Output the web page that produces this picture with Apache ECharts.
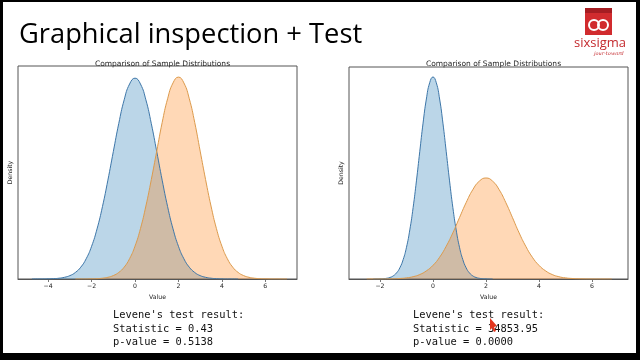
<!DOCTYPE html>
<html>
<head>
<meta charset="utf-8">
<script src="https://cdn.jsdelivr.net/npm/echarts@6/dist/echarts.min.js"></script>
<style>
html,body{margin:0;padding:0;background:#fff;}
#c{width:640px;height:360px;}
</style>
</head>
<body>
<div id="c"></div>
<script>
// ---------- data ----------
const leftTicks = [-4, -2, 0, 2, 4, 6];
const rightTicks = [-2, 0, 2, 4, 6];

const leftBlueX = [-4.75,-4.5,-4.25,-4,-3.75,-3.5,-3.25,-3,-2.75,-2.5,-2.25,-2,-1.75,-1.5,-1.25,-1,-0.75,-0.5,-0.25,0,
  0.25,0.5,0.75,1,1.25,1.5,1.75,2,2.25,2.5,2.75,3,3.25,3.5,3.75,4,4.25,4.5,4.75];
const leftBlueY = [0.0000,0.0001,0.0001,0.0003,0.0006,0.0015,0.0032,0.0064,0.0123,0.0223,0.0383,0.0619,0.0948,0.137,0.187,0.241,0.294,0.339,0.369,0.380,
  0.369,0.339,0.294,0.241,0.187,0.137,0.0948,0.0619,0.0383,0.0223,0.0123,0.0064,0.0032,0.0015,0.0006,0.0003,0.0001,0.0001,0.0000];

const leftOrangeX = [-2.75,-2.5,-2.25,-2,-1.75,-1.5,-1.25,-1,-0.75,-0.5,-0.25,0,0.25,0.5,0.75,1,1.25,1.5,1.75,2,
  2.25,2.5,2.75,3,3.25,3.5,3.75,4,4.25,4.5,4.75,5,5.25,5.5,5.75,6,6.25,6.5,6.75,7];
const leftOrangeY = [0.0000,0.0001,0.0001,0.0003,0.0006,0.0015,0.0032,0.0065,0.0124,0.0224,0.0385,0.0622,0.0953,0.138,0.188,0.242,0.296,0.341,0.371,0.382,
  0.371,0.341,0.296,0.242,0.188,0.138,0.0953,0.0622,0.0385,0.0224,0.0124,0.0065,0.0032,0.0015,0.0006,0.0003,0.0001,0.0001,0.0000,0.0000];

const rightBlueX = [-2.25,-2.125,-2,-1.875,-1.75,-1.625,-1.5,-1.375,-1.25,-1.125,-1,-0.875,-0.75,-0.625,-0.5,-0.375,-0.25,-0.125,0,
  0.125,0.25,0.375,0.5,0.625,0.75,0.875,1,1.125,1.25,1.375,1.5,1.625,1.75,1.875,2,2.125,2.25];
const rightBlueY = [0.0001,0.0002,0.0005,0.0012,0.0027,0.0058,0.0120,0.0233,0.0428,0.0742,0.121,0.187,0.272,0.374,0.485,0.594,0.686,0.748,0.770,
  0.748,0.686,0.594,0.485,0.374,0.272,0.187,0.121,0.0742,0.0428,0.0233,0.0120,0.0058,0.0027,0.0012,0.0005,0.0002,0.0001];

const rightOrangeX = [-2.5,-2.25,-2,-1.75,-1.5,-1.25,-1,-0.75,-0.5,-0.25,0,0.25,0.5,0.75,1,1.25,1.5,1.75,2,
  2.25,2.5,2.75,3,3.25,3.5,3.75,4,4.25,4.5,4.75,5,5.25,5.5,5.75,6,6.25,6.5,6.75];
const rightOrangeY = [0.0000,0.0000,0.0001,0.0003,0.0008,0.0020,0.0043,0.0088,0.017,0.031,0.052,0.083,0.125,0.176,0.234,0.291,0.340,0.373,0.385,
  0.373,0.340,0.291,0.234,0.176,0.125,0.083,0.052,0.031,0.017,0.0088,0.0043,0.0020,0.0008,0.0003,0.0001,0.0000,0.0000,0.0000];

const heading = 'Graphical inspection + Test';
const chartTitle = 'Comparison of Sample Distributions';
const leftResult = ["Levene's test result:", 'Statistic = 0.43', 'p-value = 0.5138'];
const rightResult = ["Levene's test result:", 'Statistic = 34853.95', 'p-value = 0.0000'];

// ---------- chart ----------
const chart = echarts.init(document.getElementById('c'), null, {renderer: 'canvas'});
const BLUE = '#1f77b4', ORANGE = '#ff7f0e';
const BLUE_LINE = '#3d76a8', ORANGE_LINE = '#dc9a4c';
const txt = '#262626';
const mpl = 'DejaVu Sans';

function pairs(xs, ys){ return xs.map((x,i)=>[x, ys[i]]); }
function xAxis(idx, min, max, ticks){
  return {
    type:'value', gridIndex: idx, min, max,
    name:'Value', nameLocation:'middle', nameGap:12,
    nameTextStyle:{fontFamily:mpl, fontSize:6.2, color:txt},
    axisLine:{show:true, lineStyle:{color:'#555', width:1}},
    axisTick:{show:true, length:3, lineStyle:{color:'#555', width:0.8}, customValues: ticks},
    axisLabel:{show:true, margin:4, fontFamily:mpl, fontSize:6.2, color:txt, customValues: ticks,
      formatter: v => String(v).replace('-', '\u2212')},
    splitLine:{show:false}
  };
}
function yAxis(idx, max){
  return {
    type:'value', gridIndex: idx, min:0, max,
    name:'Density', nameLocation:'middle', nameGap:5, nameRotate:90,
    nameTextStyle:{fontFamily:mpl, fontSize:6.2, color:txt},
    axisLine:{show:false}, axisTick:{show:false}, axisLabel:{show:false}, splitLine:{show:false}
  };
}
function kde(idx, data, color, lineColor){
  return {
    type:'line', xAxisIndex: idx, yAxisIndex: idx, data,
    smooth:0.5, symbol:'none', silent:true,
    lineStyle:{color: lineColor, width:1},
    areaStyle:{color, opacity:0.3}
  };
}

const option = {
  animation:false,
  backgroundColor:'#ffffff',
  title:[
    {text: chartTitle, left:157.5, top:55.5, textAlign:'center',
      textStyle:{fontFamily:mpl, fontSize:7.5, fontWeight:'normal', color:txt}},
    {text: chartTitle, left:488.5, top:55.5, textAlign:'center',
      textStyle:{fontFamily:mpl, fontSize:7.5, fontWeight:'normal', color:txt}}
  ],
  grid:[
    {left:18, right:343, top:66, bottom:81, show:true, borderColor:'#555', borderWidth:1, backgroundColor:'transparent'},
    {left:349, right:12, top:67, bottom:81, show:true, borderColor:'#555', borderWidth:1, backgroundColor:'transparent'}
  ],
  xAxis:[xAxis(0, -5.39, 7.46, leftTicks), xAxis(1, -3.17, 7.36, rightTicks)],
  yAxis:[yAxis(0, 0.403), yAxis(1, 0.808)],
  series:[
    kde(0, pairs(leftBlueX, leftBlueY), BLUE, BLUE_LINE),
    kde(0, pairs(leftOrangeX, leftOrangeY), ORANGE, ORANGE_LINE),
    kde(1, pairs(rightBlueX, rightBlueY), BLUE, BLUE_LINE),
    kde(1, pairs(rightOrangeX, rightOrangeY), ORANGE, ORANGE_LINE)
  ],
  graphic:[
    // slide frame
    {type:'rect', shape:{x:0,y:0,width:3,height:360}, style:{fill:'#000'}, silent:true},
    {type:'rect', shape:{x:0,y:0,width:640,height:2}, style:{fill:'#000'}, silent:true},
    {type:'rect', shape:{x:636,y:0,width:4,height:360}, style:{fill:'#000'}, silent:true},
    {type:'rect', shape:{x:0,y:353,width:640,height:7}, style:{fill:'#000'}, silent:true},
    // heading
    {type:'text', left:19, top:22, style:{text: heading, font:'normal 27.3px "Open Sans"', fill:'#000'}, silent:true},
    // logo
    {type:'rect', shape:{x:585,y:8,width:27,height:27}, style:{fill:'#d12b2e'}, silent:true},
    {type:'rect', shape:{x:585,y:8,width:27,height:5}, style:{fill:'#a51d22'}, silent:true},
    {type:'circle', shape:{cx:594,cy:25,r:5}, style:{fill:'none', stroke:'#fff', lineWidth:2}, silent:true},
    {type:'circle', shape:{cx:603,cy:25,r:5}, style:{fill:'none', stroke:'#fff', lineWidth:2}, silent:true},
    {type:'text', left:574, top:37, style:{text:'sixsigma', font:'normal 13px "Open Sans"', fill:'#c42a2e'}, silent:true},
    {type:'text', left:594, top:51, style:{text:'jour-toward', font:'italic 5px "DejaVu Serif"', fill:'#c42a2e'}, silent:true},
    // test results
    {type:'text', left:113, top:309, style:{text: leftResult.join('\n'), font:'normal 10.4px "DejaVu Sans Mono"', lineHeight:13.5, fill:'#111'}, silent:true},
    {type:'text', left:413, top:309, style:{text: rightResult.join('\n'), font:'normal 10.4px "DejaVu Sans Mono"', lineHeight:13.5, fill:'#111'}, silent:true},
    // cursor
    {type:'polygon', shape:{points:[[490,318],[497,326],[494,327],[496,331],[494,332],[492,328],[490,330]]}, style:{fill:'#e2361f'}, silent:true}
  ]
};
chart.setOption(option);
</script>
</body>
</html>
